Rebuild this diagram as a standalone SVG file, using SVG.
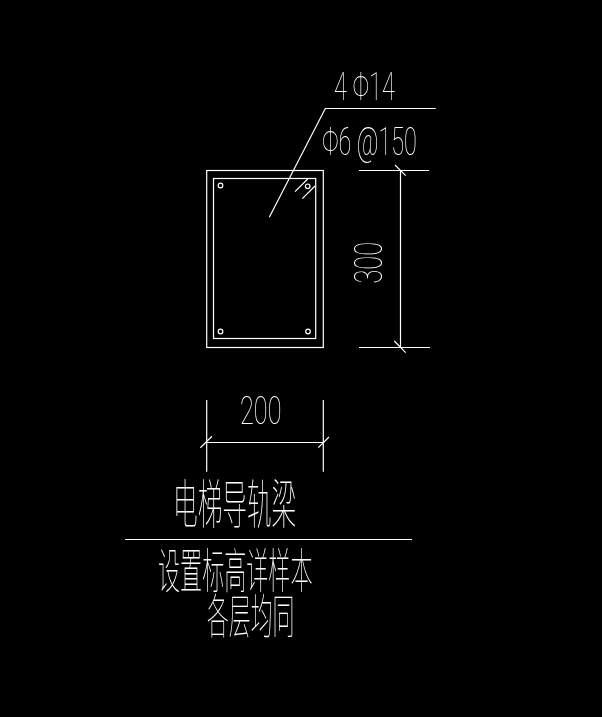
<svg xmlns="http://www.w3.org/2000/svg" width="602" height="717" viewBox="0 0 602 717">
<defs><filter id="gray" x="0" y="0" width="602" height="717" filterUnits="userSpaceOnUse" color-interpolation-filters="sRGB"><feOffset dx="0" dy="0"/></filter></defs>
<style>
.l{stroke:#fff;stroke-width:1.2;fill:none}
.t{fill:#fff;font-family:Roboto,"Liberation Sans",sans-serif;font-weight:100}
.c{fill:#fff;font-family:"Noto Sans CJK SC",sans-serif;font-weight:100}
.g{filter:url(#gray)}
</style>
<rect width="602" height="717" fill="#000"/>
<g id="beam">
<rect class="l" x="206.7" y="170.5" width="116.6" height="177"/>
<rect class="l" x="213.5" y="178.5" width="102.2" height="160"/>
<circle class="l" cx="220.5" cy="185.5" r="2.3"/>
<circle class="l" cx="307.7" cy="186.3" r="2.3"/>
<circle class="l" cx="220.5" cy="331.5" r="2.3"/>
<circle class="l" cx="308" cy="331.5" r="2.3"/>
<path class="l" d="M295 191.7L307.7 179M302.3 198.7L315 186"/>
</g>
<g id="connectors">
<path class="l" d="M269.3 217.3L325.3 108.5H435.7"/>
<path class="l" d="M359 170.5H429M359 347.5H430M400.5 170.5V347.5M395 165L405.7 175.7M394.3 341L405.7 352.7"/>
<path class="l" d="M206.7 400V471.7M323.3 400V471.7M206.7 442.5H323.3M200.3 447.7L212 436.3M318.3 447.7L329 437"/>
<path class="l" d="M125 539.5H412"/>
</g>
<g id="label-rebar" class="g">
<text class="t" transform="translate(334 99.5) scale(.6 1)" font-size="39" xml:space="preserve">4 Φ14</text>
<text class="t" transform="translate(322 154.5) scale(.6 1)" font-size="39" textLength="158">Φ6 @150</text>
</g>
<g id="label-300" class="g"><text class="t" transform="translate(381.5 283.5) rotate(-90) scale(.65 1)" font-size="39">300</text></g>
<g id="label-200" class="g"><text class="t" transform="translate(240 424) scale(.65 1)" font-size="39">200</text></g>
<g id="title" class="g">
<text class="c" transform="translate(173 524) scale(.465 1)" font-size="53">电梯导轨梁</text>
<text class="c" transform="translate(158 588) scale(.46 1)" font-size="48">设置标高详样本</text>
<text class="c" transform="translate(207 632.5) scale(.465 1)" font-size="47">各层均同</text>
</g>
</svg>
